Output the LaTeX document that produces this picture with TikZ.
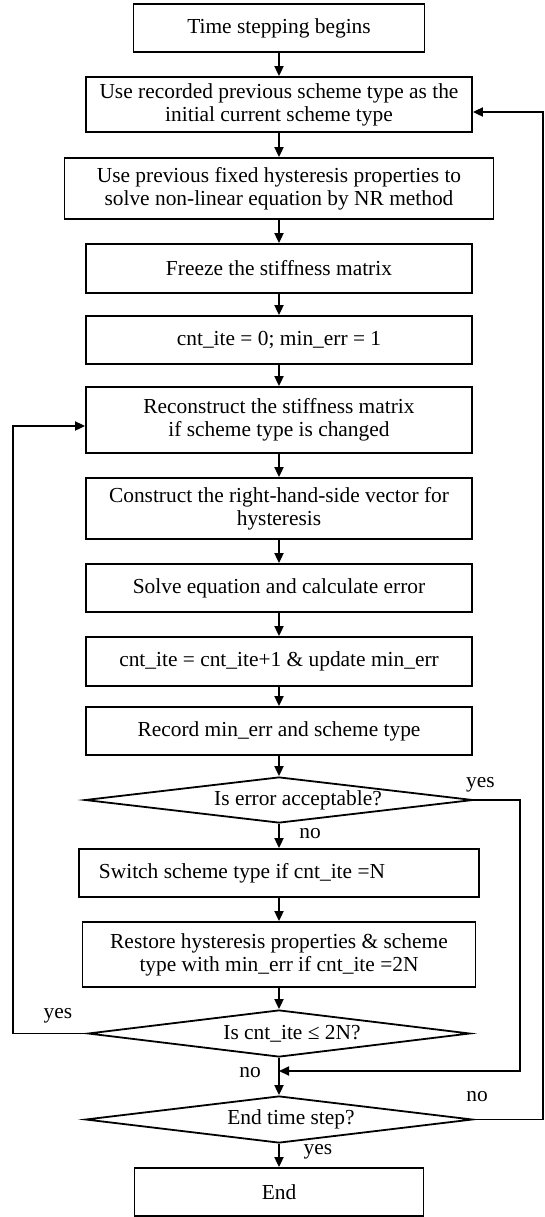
\documentclass[tikz,border=0pt]{standalone}
\usepackage{fontspec}
\setmainfont{Liberation Serif}
\usetikzlibrary{shapes.geometric,arrows.meta}

\begin{document}
\begin{tikzpicture}[x=0.5pt,y=-0.5pt, line width=0.9pt,
        font=\fontsize{10.7}{11.5}\selectfont,
        >={Triangle[length=5pt,width=4.5pt]},
        box/.style={draw, rectangle, align=center, inner sep=0pt, minimum width=193pt},
        decision/.style={draw, diamond, aspect=8.2, inner sep=0pt},
        lbl/.style={inner sep=0pt}]
        \useasboundingbox (0,0) rectangle (545,1217);
        % Main column
        \node[box, minimum width=145.5pt, minimum height=24pt] (start) at (279,28) {Time stepping begins};
        \node[box, minimum height=27.5pt] (b2) at (279,104.5) {Use recorded previous scheme type as the\\initial current scheme type};
        \node[box, minimum width=214.5pt, minimum height=30.5pt] (b3) at (279,188.5) {Use previous fixed hysteresis properties to\\solve non-linear equation by NR method};
        \node[box, minimum height=24.5pt] (b4) at (279,268.5) {Freeze the stiffness matrix};
        \node[box, minimum height=24pt] (b5) at (279,340) {cnt\_ite = 0; min\_err = 1};
        \node[box, minimum height=33pt] (b6) at (279,420) {Reconstruct the stiffness matrix\\if scheme type is changed};
        \node[box, minimum height=30.5pt] (b7) at (279,508.5) {Construct the right-hand-side vector for\\hysteresis};
        \node[box, minimum height=24pt] (b8) at (279,588) {Solve equation and calculate error};
        \node[box, minimum height=24.5pt] (b9) at (279,661.5) {cnt\_ite = cnt\_ite+1 \& update min\_err};
        \node[box, minimum height=24pt] (b10) at (279,731) {Record min\_err and scheme type};
        \node[decision, minimum width=194pt, minimum height=23pt] (d1) at (279,800) {\hspace*{19pt}Is error acceptable?};
        \node[box, minimum width=200pt, minimum height=24pt] (b11) at (279,873) {Switch scheme type if cnt\_ite =N\hspace*{37pt}};
        \node[box, minimum width=196.5pt, minimum height=32.5pt] (b12) at (279,954.5) {Restore hysteresis properties \& scheme\\type with min\_err if cnt\_ite =2N};
        \node[decision, minimum width=191pt, minimum height=23.5pt] (d2) at (279,1033.5) {\hspace*{13pt}Is cnt\_ite ≤ 2N?};
        \node[decision, minimum width=193.5pt, minimum height=23.5pt] (d3) at (279,1119.5) {\hspace*{12pt}End time step?};
        \node[box, minimum width=144.5pt, minimum height=24pt] (stop) at (279,1192) {End};
        \coordinate (j) at (279,1071);
        % Straight arrows
        \foreach \a/\b in {start/b2, b2/b3, b3/b4, b4/b5, b5/b6, b6/b7, b7/b8, b8/b9, b9/b10, b10/d1, d1/b11, b11/b12, b12/d2, d2/d3, d3/stop}
            \draw[->] (\a) -- (\b);
        % Loops
        \draw[->] (d1.east) -- ++(46,0) |- (j);
        \draw[->] (d2.west) -- ++(-74,0) |- ([yshift=-3pt]b6.west);
        \draw[->] (d3.east) -- ++(69.5,0) |- ([yshift=-3.75pt]b2.east);
        % Labels
        \node[lbl] (yes1) at (480.5,785) {yes};
        \node[lbl] (no1) at (310,834) {no};
        \node[lbl] (yes2) at (58,1016) {yes};
        \node[lbl] (no2) at (250,1073) {no};
        \node[lbl] (no3) at (477,1097) {no};
        \node[lbl] (yes3) at (318,1152) {yes};
    \end{tikzpicture}
\end{document}
